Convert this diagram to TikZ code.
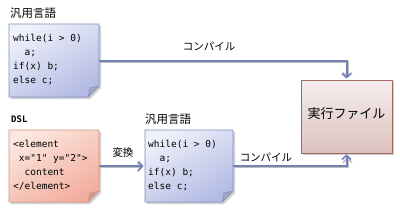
\documentclass[tikz,border=0pt]{standalone}
\usepackage{fontspec}
\setmainfont{Noto Sans CJK JP}
\newfontfamily\codefont{DejaVu Sans Mono}
\newfontfamily\jpfont{Noto Sans CJK JP}
\usetikzlibrary{arrows.meta,shadows,calc}
\definecolor{blueA}{HTML}{EEF0FA}
\definecolor{blueB}{HTML}{B4BCE4}
\definecolor{blueE}{HTML}{8290C0}
\definecolor{redA}{HTML}{FCE6DE}
\definecolor{redB}{HTML}{F2AE9E}
\definecolor{redE}{HTML}{D89484}
\definecolor{exA}{HTML}{F5EEEC}
\definecolor{exB}{HTML}{DCC2BE}
\definecolor{exE}{HTML}{A0685E}
\definecolor{arr}{HTML}{7282B4}
\tikzset{
  x=1pt,y=-1pt,
  codetext/.style={anchor=north west,align=left,inner sep=0pt,font=\codefont\fontsize{9.5}{14}\selectfont},
  titletext/.style={anchor=west,inner sep=0pt,font=\jpfont\fontsize{11.5}{13}\selectfont},
  lbl/.style={inner sep=0pt,font=\jpfont\fontsize{10.5}{12}\selectfont},
  exbox/.style={draw=exE,line width=0.8pt,top color=exA,bottom color=exB,minimum width=91pt,minimum height=73pt,inner sep=0pt,
    drop shadow={shadow xshift=2pt,shadow yshift=-2pt,fill=black!60,opacity=0.3}},
  conn/.style={draw=arr,line width=2pt,-{Straight Barb[length=4pt,width=9pt,line width=1.6pt]},
    preaction={draw=black!25,line width=2pt,shorten >=2pt,transform canvas={xshift=1pt,yshift=-1pt}}},
}
\newcommand{\notebox}[6]{% name, x1,y1,x2,y2, colorprefix
  \fill[black!18] (#2+2,#3+2) -- (#4+2,#3+2) -- (#4+2,#5-11+2) -- (#4-11+2,#5+2) -- (#2+2,#5+2) -- cycle;
  \shade[top color=#6A,bottom color=#6B,shading angle=30,draw=#6E,line width=0.8pt]
    (#2,#3) -- (#4,#3) -- (#4,#5-11) -- (#4-11,#5) -- (#2,#5) -- cycle;
  \filldraw[fill=#6B!80!black!85,draw=#6E,line width=0.6pt,line join=round] (#4,#5-11) -- (#4-9,#5-9) -- (#4-11,#5) -- cycle;
  \coordinate (#1-e) at (#4,{(#3+#5)/2});
  \coordinate (#1-w) at (#2-1.5,{(#3+#5)/2});
}
\begin{document}
\begin{tikzpicture}
\useasboundingbox (0,0) rectangle (400,210);
\fill[white] (0,0) rectangle (400,210);
% top note
\notebox{n1}{9}{24}{99}{97}{blue}
\node[titletext] (t1) at (10,13) {汎用言語};
\node[codetext] (c1) at (13,34) {while(i > 0)\\\ \ a;\\if(x) b;\\else c;};
% DSL note
\notebox{n2}{9}{130}{99}{202}{red}
\node[titletext,font=\codefont\bfseries\fontsize{9}{11}\selectfont] (t2) at (11,119) {DSL};
\node[codetext] (c2) at (13,140) {<element\\\ x="1" y="2">\\\ \ content\\</element>};
% bottom blue note
\notebox{n3}{145}{130}{233}{202}{blue}
\node[titletext] (t3) at (145,119) {汎用言語};
\node[codetext] (c3) at (148,140) {while(i > 0)\\\ \ a;\\if(x) b;\\else c;};
% exec box
\node[exbox] (ex) at (346.5,116.5) {};
\node[inner sep=0pt,font=\jpfont\fontsize{13}{15}\selectfont] (exl) at (346.5,114) {実行ファイル};
% arrows
\draw[conn] (n1-e) -| ([yshift=1pt]ex.north);
\node[lbl] (l1) at (209,46) {コンパイル};
\draw[conn] (n2-e) -- (n3-w);
\node[lbl] (l2) at (123,153) {変換};
\draw[conn] (n3-e) -| ([yshift=-1pt]ex.south);
\node[lbl] (l3) at (266,157) {コンパイル};
\end{tikzpicture}
\end{document}
